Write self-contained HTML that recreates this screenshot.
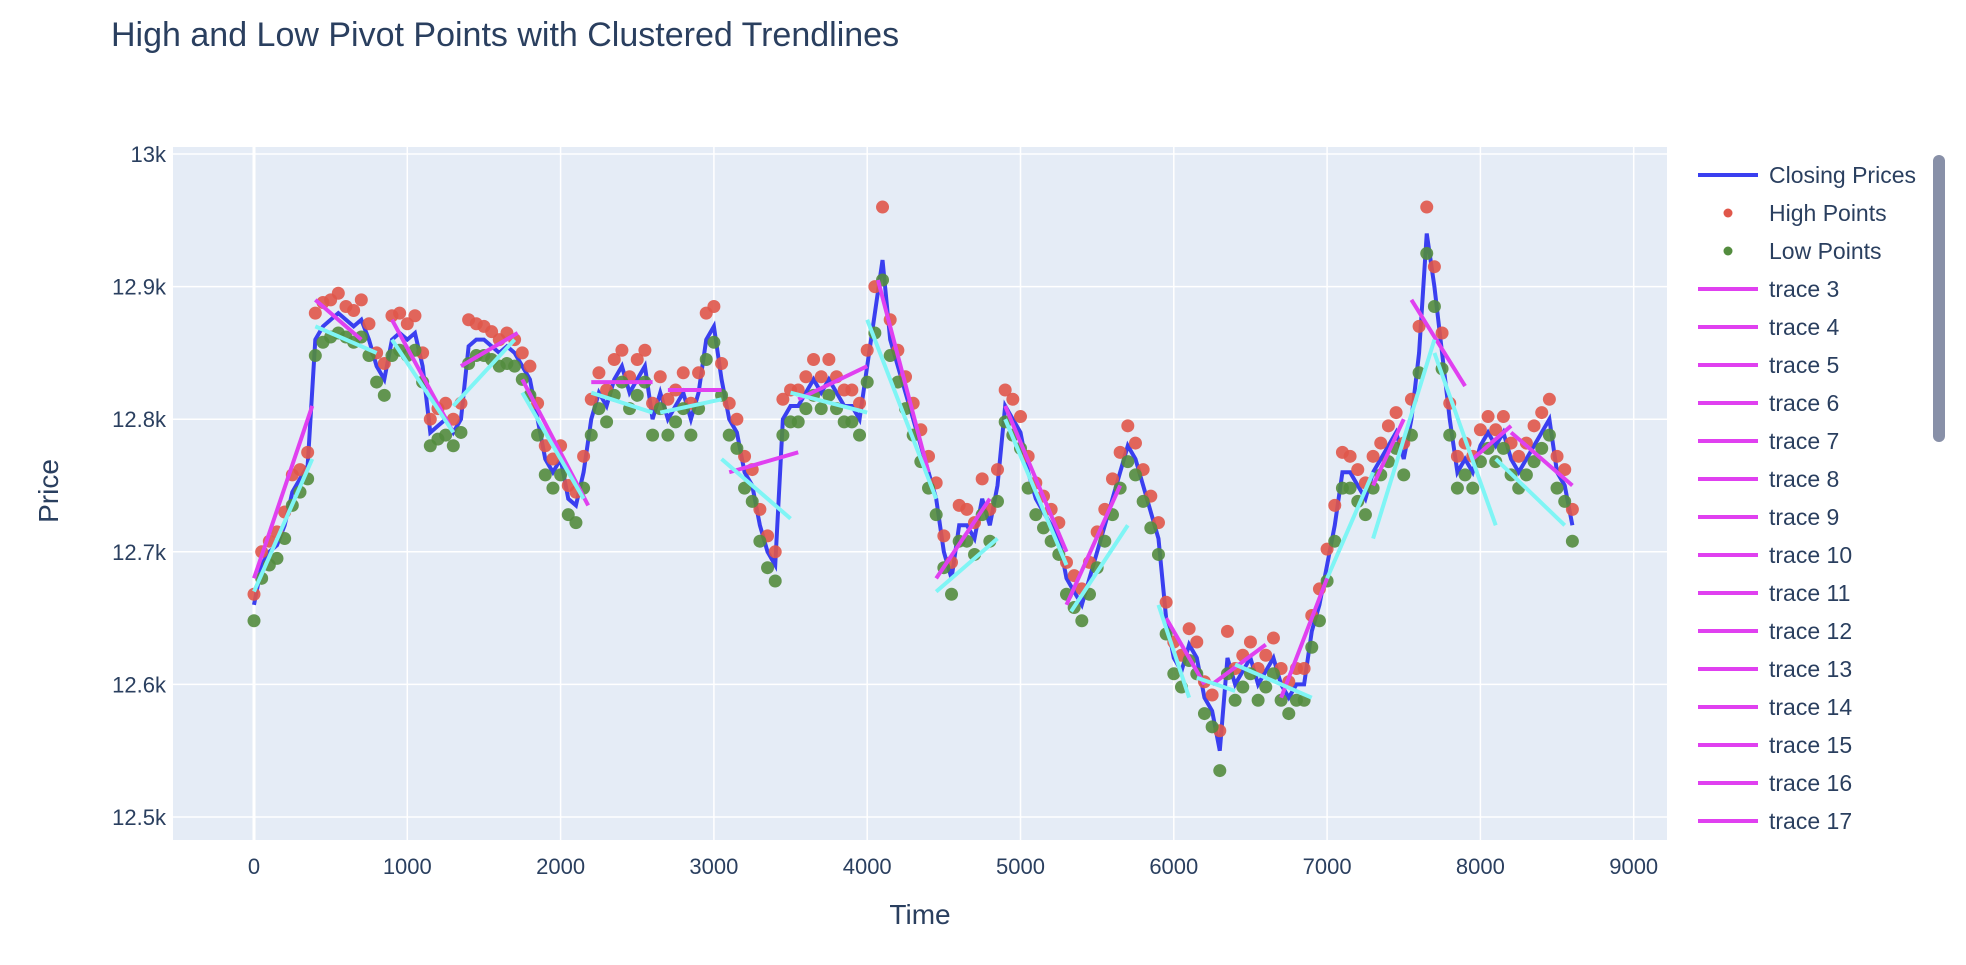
<!DOCTYPE html>
<html><head><meta charset="utf-8">
<style>
body{margin:0;background:#fff;width:1966px;height:960px;overflow:hidden;font-family:"Liberation Sans",sans-serif;}
svg text{font-family:"Liberation Sans",sans-serif;fill:#2a3f5f;}
</style></head>
<body>
<svg id="chart" width="1966" height="960">
<text x="111" y="46" font-size="34">High and Low Pivot Points with Clustered Trendlines</text>
<rect x="173" y="147" width="1494" height="693" fill="#e5ecf6"/>
<g id="grid"></g>
<g id="lines"></g>
<g id="ticks"></g>
<text x="920" y="924" font-size="28" text-anchor="middle">Time</text>
<text x="58" y="491" font-size="28" text-anchor="middle" transform="rotate(-90 58 491)">Price</text>
<g id="legend"></g>
<rect x="1933" y="155" width="12" height="287" rx="6" fill="#8890a8"/>
</svg>
<script>
const startT = 0, stepT = 50;
const closeVals = [12660,12690,12700,12705,12720,12745,12755,12765,12860,12870,12875,12880,12875,12870,12875,12860,12840,12830,12860,12865,12860,12865,12840,12790,12795,12800,12790,12800,12855,12860,12860,12855,12850,12855,12850,12840,12830,12800,12770,12760,12770,12740,12735,12760,12800,12820,12810,12830,12840,12820,12830,12840,12800,12820,12800,12810,12820,12800,12820,12860,12870,12830,12800,12790,12760,12750,12720,12700,12690,12800,12810,12810,12820,12830,12820,12830,12820,12810,12810,12800,12840,12880,12920,12860,12840,12820,12800,12780,12760,12740,12700,12680,12720,12720,12710,12740,12720,12750,12810,12800,12790,12760,12740,12730,12720,12710,12680,12670,12660,12680,12700,12720,12740,12760,12780,12770,12750,12730,12710,12650,12620,12610,12630,12620,12590,12580,12550,12620,12600,12610,12620,12600,12610,12620,12600,12590,12600,12600,12640,12660,12690,12720,12760,12760,12750,12740,12760,12770,12780,12790,12770,12800,12850,12940,12900,12850,12800,12760,12770,12760,12780,12790,12780,12790,12770,12760,12770,12780,12790,12800,12760,12750,12720];
const highVals = [12668,12700,12708,12715,12730,12758,12762,12775,12880,12888,12890,12895,12885,12882,12890,12872,12850,12842,12878,12880,12872,12878,12850,12800,12808,12812,12800,12812,12875,12872,12870,12866,12860,12865,12860,12850,12840,12812,12780,12770,12780,12750,12745,12772,12815,12835,12822,12845,12852,12832,12845,12852,12812,12832,12815,12822,12835,12812,12835,12880,12885,12842,12812,12800,12772,12762,12732,12712,12700,12815,12822,12822,12832,12845,12832,12845,12832,12822,12822,12812,12852,12900,12960,12875,12852,12832,12812,12792,12772,12752,12712,12692,12735,12732,12722,12755,12732,12762,12822,12815,12802,12772,12752,12742,12732,12722,12692,12682,12672,12692,12715,12732,12755,12775,12795,12782,12762,12742,12722,12662,12632,12622,12642,12632,12602,12592,12565,12640,12612,12622,12632,12612,12622,12635,12612,12602,12612,12612,12652,12672,12702,12735,12775,12772,12762,12752,12772,12782,12795,12805,12782,12815,12870,12960,12915,12865,12812,12772,12782,12772,12792,12802,12792,12802,12782,12772,12782,12795,12805,12815,12772,12762,12732];
const lowVals = [12648,12680,12690,12695,12710,12735,12745,12755,12848,12858,12862,12865,12862,12858,12862,12848,12828,12818,12848,12852,12848,12852,12828,12780,12785,12788,12780,12790,12842,12848,12848,12845,12840,12842,12840,12830,12818,12788,12758,12748,12758,12728,12722,12748,12788,12808,12798,12818,12828,12808,12818,12828,12788,12808,12788,12798,12808,12788,12808,12845,12858,12818,12788,12778,12748,12738,12708,12688,12678,12788,12798,12798,12808,12818,12808,12818,12808,12798,12798,12788,12828,12865,12905,12848,12828,12808,12788,12768,12748,12728,12688,12668,12708,12708,12698,12728,12708,12738,12798,12788,12778,12748,12728,12718,12708,12698,12668,12658,12648,12668,12688,12708,12728,12748,12768,12758,12738,12718,12698,12638,12608,12598,12618,12608,12578,12568,12535,12608,12588,12598,12608,12588,12598,12608,12588,12578,12588,12588,12628,12648,12678,12708,12748,12748,12738,12728,12748,12758,12768,12778,12758,12788,12835,12925,12885,12838,12788,12748,12758,12748,12768,12778,12768,12778,12758,12748,12758,12768,12778,12788,12748,12738,12708];
const highTrendStart = [[0,12680],[400,12890],[900,12875],[1350,12840],[1750,12830],[2200,12828],[2700,12822],[3100,12760],[3550,12815],[4070,12905],[4450,12680],[4900,12810],[5300,12660],[5950,12650],[6250,12600],[6700,12590],[7300,12750],[7550,12890],[7950,12770],[8200,12790]];
const highTrendEnd = [[380,12810],[700,12860],[1300,12790],[1720,12865],[2180,12735],[2600,12828],[3050,12822],[3550,12775],[4000,12840],[4400,12760],[4800,12740],[5300,12700],[5650,12750],[6200,12600],[6600,12630],[7000,12680],[7500,12800],[7900,12825],[8200,12795],[8600,12750]];
const lowTrendStart = [[0,12670],[400,12870],[900,12860],[1300,12810],[1750,12820],[2200,12820],[2650,12805],[3050,12770],[3500,12820],[4000,12875],[4450,12670],[4900,12800],[5330,12655],[5900,12660],[6150,12605],[6400,12615],[7000,12680],[7300,12710],[7700,12850],[8100,12770]];
const lowTrendEnd = [[380,12770],[800,12850],[1300,12790],[1700,12860],[2150,12740],[2600,12805],[3050,12815],[3500,12725],[4000,12805],[4450,12740],[4850,12710],[5300,12690],[5700,12720],[6100,12590],[6400,12595],[6900,12590],[7300,12760],[7700,12860],[8100,12720],[8550,12720]];
const xTicks = [0,1000,2000,3000,4000,5000,6000,7000,8000,9000];
const yTicks = [12500,12600,12700,12800,12900,13000];
const yTickLabels = ["12.5k","12.6k","12.7k","12.8k","12.9k","13k"];
const legendLabels = ["Closing Prices","High Points","Low Points","trace 3","trace 4","trace 5","trace 6","trace 7","trace 8","trace 9","trace 10","trace 11","trace 12","trace 13","trace 14","trace 15","trace 16","trace 17"];

const NS="http://www.w3.org/2000/svg";
const X=t=>254+t*0.1533;
const Y=p=>154+(13000-p)*1.326;
function mk(tag,attrs,parent){const e=document.createElementNS(NS,tag);for(const k in attrs)e.setAttribute(k,attrs[k]);parent.appendChild(e);return e;}
const grid=document.getElementById('grid'),lines=document.getElementById('lines'),ticks=document.getElementById('ticks'),leg=document.getElementById('legend');
xTicks.forEach(t=>{
  const l=mk('line',{x1:X(t),x2:X(t),y1:147,y2:840,stroke:'#fff','stroke-width':t===0?3:1.5},grid);
  
  
  const tx=mk('text',{x:X(t),y:874,'font-size':22,'text-anchor':'middle'},ticks);tx.textContent=t;
  
  
});
yTicks.forEach((p,i)=>{
  const l=mk('line',{x1:173,x2:1667,y1:Y(p),y2:Y(p),stroke:'#fff','stroke-width':1.5},grid);
  
  
  const tx=mk('text',{x:166,y:Y(p)+8,'font-size':22,'text-anchor':'end'},ticks);tx.textContent=yTickLabels[i];
  
  
});
const cl=mk('polyline',{points:closeVals.map((v,i)=>X(startT+i*stepT)+','+Y(v)).join(' '),fill:'none',stroke:'#3a3ff0','stroke-width':4},lines);


highVals.forEach((v,i)=>{
  const c=mk('circle',{cx:X(startT+i*stepT),cy:Y(v),r:6.5,fill:'#e0574a','fill-opacity':0.9},lines);
  
  
});
lowVals.forEach((v,i)=>{
  const c=mk('circle',{cx:X(startT+i*stepT),cy:Y(v),r:6.5,fill:'#538c3e','fill-opacity':0.9},lines);
  
  
});
highTrendStart.forEach((s,i)=>{
  const e=highTrendEnd[i];
  const l=mk('line',{x1:X(s[0]),y1:Y(s[1]),x2:X(e[0]),y2:Y(e[1]),stroke:'#e040f0','stroke-width':4},lines);
  
  
});
lowTrendStart.forEach((s,i)=>{
  const e=lowTrendEnd[i];
  const l=mk('line',{x1:X(s[0]),y1:Y(s[1]),x2:X(e[0]),y2:Y(e[1]),stroke:'#7ff5f5','stroke-width':4},lines);
  
  
});
legendLabels.forEach((lab,i)=>{
  const y=175+i*38;
  const g=mk('g',{},leg);
  
  
  if(i===1||i===2){mk('circle',{cx:1728,cy:y,r:4.5,fill:i===1?'#e0574a':'#538c3e'},g);}
  else{mk('line',{x1:1698,x2:1758,y1:y,y2:y,stroke:i===0?'#3a3ff0':'#e040f0','stroke-width':4},g);}
  const t=mk('text',{x:1769,y:y+8,'font-size':23},g);t.textContent=lab;
});
</script>
</body></html>
